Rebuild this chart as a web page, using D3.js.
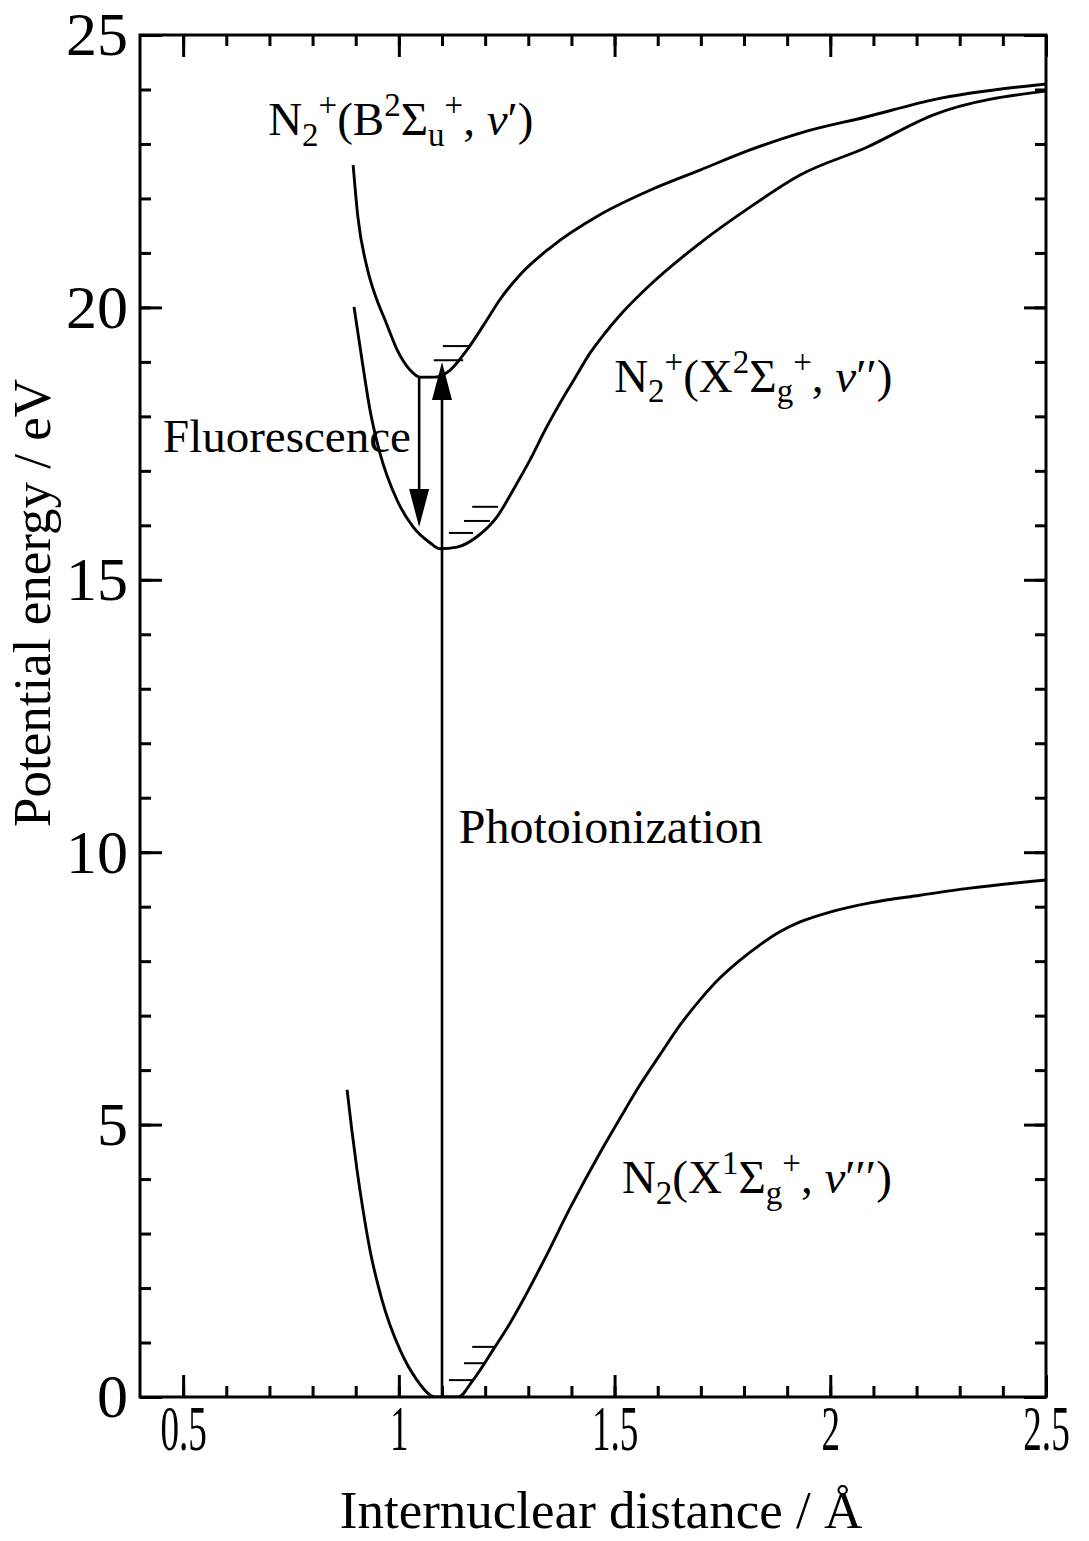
<!DOCTYPE html>
<html>
<head>
<meta charset="utf-8">
<script src="https://cdn.jsdelivr.net/npm/d3@7"></script>
<style>
  html, body { margin: 0; padding: 0; background: #fff; }
  svg { display: block; font-family: "Liberation Serif", "Times New Roman", serif; }
</style>
</head>
<body>
<svg id="chart" width="1089" height="1541"></svg>
<script>
// Potential energy curves of N2 and N2+ (internuclear distance in Å, energy in eV)
const groundX = [0.880, 0.891, 0.903, 0.917, 0.933, 0.961, 1.003, 1.042, 1.072, 1.084, 1.137, 1.172, 1.218, 1.258, 1.288, 1.339, 1.397, 1.466, 1.513, 1.559, 1.605, 1.652, 1.698, 1.744, 1.791, 1.837, 1.883, 1.930, 1.999, 2.092, 2.208, 2.324, 2.500];
const groundE = [5.64, 4.90, 4.17, 3.43, 2.70, 1.78, 0.86, 0.31, 0.04, 0.00, 0.00, 0.31, 0.86, 1.36, 1.78, 2.55, 3.47, 4.48, 5.12, 5.73, 6.28, 6.83, 7.29, 7.69, 8.02, 8.30, 8.54, 8.72, 8.90, 9.07, 9.21, 9.34, 9.49];

const ionXX = [0.896, 0.917, 0.933, 0.956, 0.996, 1.033, 1.072, 1.095, 1.135, 1.181, 1.227, 1.265, 1.304, 1.339, 1.374, 1.408, 1.443, 1.478, 1.513, 1.582, 1.698, 1.814, 1.930, 2.085, 2.238, 2.500];
const ionXE = [20.01, 18.91, 18.12, 17.33, 16.46, 15.97, 15.68, 15.57, 15.60, 15.79, 16.15, 16.65, 17.20, 17.75, 18.25, 18.70, 19.16, 19.53, 19.86, 20.41, 21.18, 21.84, 22.43, 22.94, 23.53, 23.97];

const ionBX = [0.894, 0.905, 0.926, 0.949, 0.968, 0.996, 1.026, 1.049, 1.084, 1.119, 1.158, 1.204, 1.234, 1.281, 1.350, 1.466, 1.582, 1.698, 1.814, 1.930, 2.085, 2.238, 2.500];
const ionBE = [22.61, 21.66, 20.74, 20.14, 19.77, 19.22, 18.85, 18.72, 18.72, 18.85, 19.22, 19.77, 20.14, 20.60, 21.09, 21.70, 22.15, 22.52, 22.89, 23.20, 23.50, 23.81, 24.10];

// Vibrational levels: energy, left end, right end
const levelE  = [0.31, 0.62, 0.92, 15.86, 16.08, 16.34, 18.72, 19.03, 19.29];
const levelX0 = [1.116, 1.151, 1.170, 1.116, 1.151, 1.170, 1.047, 1.081, 1.102];
const levelX1 = [1.174, 1.202, 1.225, 1.172, 1.211, 1.230, 1.079, 1.149, 1.165];

// Transitions: position, start energy, end energy
const arrowNames = ["Photoionization", "Fluorescence"];
const arrowX     = [1.100, 1.047];
const arrowFrom  = [0.00, 18.72];
const arrowTo    = [19.00, 15.97];

// Axis ticks
const xMajorTicks = [0.5, 1, 1.5, 2, 2.5];
const xTickLabels = ["0.5", "1", "1.5", "2", "2.5"];
const yMajorTicks = [0, 5, 10, 15, 20, 25];
const yTickLabels = ["0", "5", "10", "15", "20", "25"];
const xDomain = [0.4, 2.5];
const yDomain = [0, 25];

// State labels (segments: text, optional sub/sup, optional italic) anchored at (x, energy)
const labelB  = [{t:"N"},{t:"2",s:"sub"},{t:"+",s:"sup"},{t:"(B"},{t:"2",s:"sup"},{t:"Σ"},{t:"u",s:"sub"},{t:"+",s:"sup"},{t:", "},{t:"v",i:true},{t:"′)"}];
const labelXi = [{t:"N"},{t:"2",s:"sub"},{t:"+",s:"sup"},{t:"(X"},{t:"2",s:"sup"},{t:"Σ"},{t:"g",s:"sub"},{t:"+",s:"sup"},{t:", "},{t:"v",i:true},{t:"′′)"}];
const labelX0 = [{t:"N"},{t:"2",s:"sub"},{t:"(X"},{t:"1",s:"sup"},{t:"Σ"},{t:"g",s:"sub"},{t:"+",s:"sup"},{t:", "},{t:"v",i:true},{t:"′′′)"}];
const stateLabels = [labelB, labelXi, labelX0];
const stateLabelX = [0.697, 1.499, 1.517];
const stateLabelE = [23.16, 18.45, 3.74];

const W = 1089, H = 1541;
const plot = { left: 140, right: 1046, top: 35, bottom: 1397 };

const svg = d3.select("#chart");
const x = d3.scaleLinear().domain(xDomain).range([plot.left, plot.right]);
const y = d3.scaleLinear().domain(yDomain).range([plot.bottom, plot.top]);

svg.append("defs").append("clipPath").attr("id", "plotClip")
  .append("rect")
  .attr("x", plot.left).attr("y", plot.top)
  .attr("width", plot.right - plot.left).attr("height", plot.bottom - plot.top);

// --- axes: ticks point inward on all four sides
const xMinor = d3.range(5, 26).map(d => d / 10);
const yMinor = d3.range(0, 26);

function styleAxis(g) {
  g.select(".domain").remove();
  g.selectAll(".tick line").attr("stroke", "#000").attr("stroke-width", 3);
}

// minor ticks
svg.append("g").attr("transform", `translate(0,${plot.bottom})`)
  .call(d3.axisBottom(x).tickValues(xMinor).tickSizeInner(-11).tickSizeOuter(0).tickFormat(""))
  .call(styleAxis);
svg.append("g").attr("transform", `translate(0,${plot.top})`)
  .call(d3.axisTop(x).tickValues(xMinor).tickSizeInner(-11).tickSizeOuter(0).tickFormat(""))
  .call(styleAxis);
svg.append("g").attr("transform", `translate(${plot.left},0)`)
  .call(d3.axisLeft(y).tickValues(yMinor).tickSizeInner(-11).tickSizeOuter(0).tickFormat(""))
  .call(styleAxis);
svg.append("g").attr("transform", `translate(${plot.right},0)`)
  .call(d3.axisRight(y).tickValues(yMinor).tickSizeInner(-11).tickSizeOuter(0).tickFormat(""))
  .call(styleAxis);

// major ticks
const xAxisB = svg.append("g").attr("transform", `translate(0,${plot.bottom})`)
  .call(d3.axisBottom(x).tickValues(xMajorTicks).tickSizeInner(-22).tickSizeOuter(0).tickPadding(8)
    .tickFormat((d, i) => xTickLabels[i]))
  .call(styleAxis);
xAxisB.selectAll("text")
  .attr("fill", "#000")
  .style("font-family", "'Liberation Serif', 'Times New Roman', serif")
  .style("font-size", "64px")
  .attr("transform", "scale(0.58,1)");

svg.append("g").attr("transform", `translate(0,${plot.top})`)
  .call(d3.axisTop(x).tickValues(xMajorTicks).tickSizeInner(-22).tickSizeOuter(0).tickFormat(""))
  .call(styleAxis);

const yAxisL = svg.append("g").attr("transform", `translate(${plot.left},0)`)
  .call(d3.axisLeft(y).tickValues(yMajorTicks).tickSizeInner(-22).tickSizeOuter(0).tickPadding(12)
    .tickFormat((d, i) => yTickLabels[i]))
  .call(styleAxis);
yAxisL.selectAll("text")
  .attr("fill", "#000")
  .style("font-family", "'Liberation Serif', 'Times New Roman', serif")
  .style("font-size", "62px");

svg.append("g").attr("transform", `translate(${plot.right},0)`)
  .call(d3.axisRight(y).tickValues(yMajorTicks).tickSizeInner(-22).tickSizeOuter(0).tickFormat(""))
  .call(styleAxis);

// frame
svg.append("rect")
  .attr("x", plot.left).attr("y", plot.top)
  .attr("width", plot.right - plot.left).attr("height", plot.bottom - plot.top)
  .attr("fill", "none").attr("stroke", "#000").attr("stroke-width", 3);

// --- potential curves
const line = d3.line().x(d => x(d[0])).y(d => y(d[1])).curve(d3.curveMonotoneX);
const curves = [
  d3.zip(groundX, groundE),
  d3.zip(ionXX, ionXE),
  d3.zip(ionBX, ionBE)
];
svg.append("g").attr("clip-path", "url(#plotClip)")
  .selectAll("path").data(curves).join("path")
  .attr("d", line)
  .attr("fill", "none").attr("stroke", "#000").attr("stroke-width", 2.9)
  .attr("stroke-linejoin", "round");

// --- vibrational levels
svg.append("g").selectAll("line").data(levelE).join("line")
  .attr("x1", (d, i) => x(levelX0[i])).attr("x2", (d, i) => x(levelX1[i]))
  .attr("y1", d => y(d)).attr("y2", d => y(d))
  .attr("stroke", "#000").attr("stroke-width", 2);

// --- transitions with filled arrowheads
const headLen = 38, headHalf = 10;
const arrows = svg.append("g");
arrowX.forEach((ax, i) => {
  const px = x(ax), y0 = y(arrowFrom[i]), y1 = y(arrowTo[i]);
  const dir = y1 < y0 ? 1 : -1; // 1 = pointing up
  const base = y1 + dir * headLen;
  arrows.append("line")
    .attr("x1", px).attr("x2", px).attr("y1", y0).attr("y2", base)
    .attr("stroke", "#000").attr("stroke-width", 2.6);
  arrows.append("path")
    .attr("d", `M${px},${y1}L${px - headHalf},${base}L${px + headHalf},${base}Z`)
    .attr("fill", "#000");
});

// --- text
function richText(g, px, py, parts, size) {
  const small = Math.round(size * 0.7);
  const subOff = size * 0.22, supOff = -size * 0.4;
  const t = g.append("text").attr("x", px).attr("y", py)
    .style("font-size", size + "px").attr("fill", "#000");
  let shift = 0;
  parts.forEach(p => {
    const target = p.s === "sub" ? subOff : p.s === "sup" ? supOff : 0;
    const ts = t.append("tspan").attr("dy", target - shift).text(p.t);
    shift = target;
    if (p.s) ts.style("font-size", small + "px");
    if (p.i) ts.style("font-style", "italic");
  });
  return t;
}

const labels = svg.append("g");
stateLabels.forEach((parts, i) => richText(labels, x(stateLabelX[i]), y(stateLabelE[i]), parts, 47));

// transition names
labels.append("text").attr("x", 163).attr("y", y(17.35))
  .style("font-size", "47px").text(arrowNames[1]);
labels.append("text").attr("x", x(1.139)).attr("y", y(10.17))
  .style("font-size", "48px").text(arrowNames[0]);

// axis titles
svg.append("text")
  .attr("x", 601).attr("y", 1528)
  .attr("text-anchor", "middle")
  .style("font-size", "53px")
  .text("Internuclear distance / Å");

svg.append("text")
  .attr("transform", "translate(50,603) rotate(-90)")
  .attr("text-anchor", "middle")
  .style("font-size", "53px")
  .text("Potential energy / eV");
</script>
</body>
</html>
